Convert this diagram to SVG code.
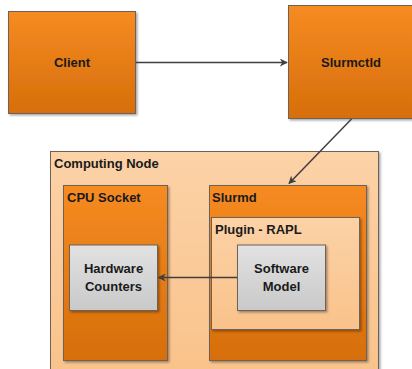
<svg xmlns="http://www.w3.org/2000/svg" width="412" height="369" viewBox="0 0 412 369">
  <defs>
    <linearGradient id="orange" x1="0" y1="0" x2="0" y2="1">
      <stop offset="0" stop-color="#F68B22"/>
      <stop offset="1" stop-color="#D66E0B"/>
    </linearGradient>
    <linearGradient id="peach" x1="0" y1="0" x2="0" y2="1">
      <stop offset="0" stop-color="#FCD2A7"/>
      <stop offset="1" stop-color="#F9C28A"/>
    </linearGradient>
    <linearGradient id="grey" x1="0" y1="0" x2="0" y2="1">
      <stop offset="0" stop-color="#E2E2E2"/>
      <stop offset="1" stop-color="#C9C9C9"/>
    </linearGradient>
    <filter id="shadow" x="-10%" y="-10%" width="125%" height="125%">
      <feDropShadow dx="1.5" dy="1.5" stdDeviation="0.8" flood-color="#000" flood-opacity="0.35"/>
    </filter>
    <marker id="arrow" viewBox="0 0 10 10" refX="9" refY="5" markerWidth="8" markerHeight="8" markerUnits="userSpaceOnUse" orient="auto">
      <path d="M0,0 L10,5 L0,10 L3,5 Z" fill="#3F3F3F"/>
    </marker>
  </defs>
  <style>
    .box { stroke: #6E6259; stroke-width: 1; filter: url(#shadow); }
    .o { fill: url(#orange); }
    .p { fill: url(#peach); }
    .g { fill: url(#grey); }
    text { font-family: "Liberation Sans", Arial, sans-serif; font-weight: bold; font-size: 13px; fill: #1A1A1A; }
    .c { text-anchor: middle; }
    .link { stroke: #3F3F3F; stroke-width: 1.5; fill: none; marker-end: url(#arrow); }
  </style>

  <g id="client">
    <rect class="box o" x="8.5" y="11.5" width="127" height="102"/>
    <text class="c" x="72" y="67">Client</text>
  </g>

  <g id="slurmctld">
    <rect class="box o" x="288.5" y="5.5" width="130" height="113"/>
    <text class="c" x="351" y="67">Slurmctld</text>
  </g>

  <g id="computing-node">
    <rect class="box p" x="50.5" y="151.5" width="328" height="230"/>
    <text x="54" y="168">Computing Node</text>
  </g>

  <g id="cpu-socket">
    <rect class="box o" x="63.5" y="185.5" width="104" height="175"/>
    <text x="67" y="202">CPU Socket</text>
  </g>

  <g id="slurmd">
    <rect class="box o" x="209.5" y="185.5" width="157" height="175"/>
    <text x="212" y="202">Slurmd</text>
  </g>

  <g id="plugin-rapl">
    <rect class="box p" x="211.5" y="217.5" width="148" height="112"/>
    <text x="215" y="234">Plugin - RAPL</text>
  </g>

  <g id="hardware-counters">
    <rect class="box g" x="69.5" y="245" width="88" height="65.5"/>
    <text class="c" x="113.5" y="273">Hardware</text>
    <text class="c" x="113.5" y="291">Counters</text>
  </g>

  <g id="software-model">
    <rect class="box g" x="237.5" y="245" width="88" height="65.5"/>
    <text class="c" x="281.5" y="273">Software</text>
    <text class="c" x="281.5" y="291">Model</text>
  </g>

  <g id="connectors">
    <line class="link" x1="136" y1="62.5" x2="287" y2="62.5"/>
    <line class="link" x1="351.5" y1="119" x2="289" y2="183.5"/>
    <line class="link" x1="237" y1="277.5" x2="158.5" y2="277.5"/>
  </g>
</svg>
